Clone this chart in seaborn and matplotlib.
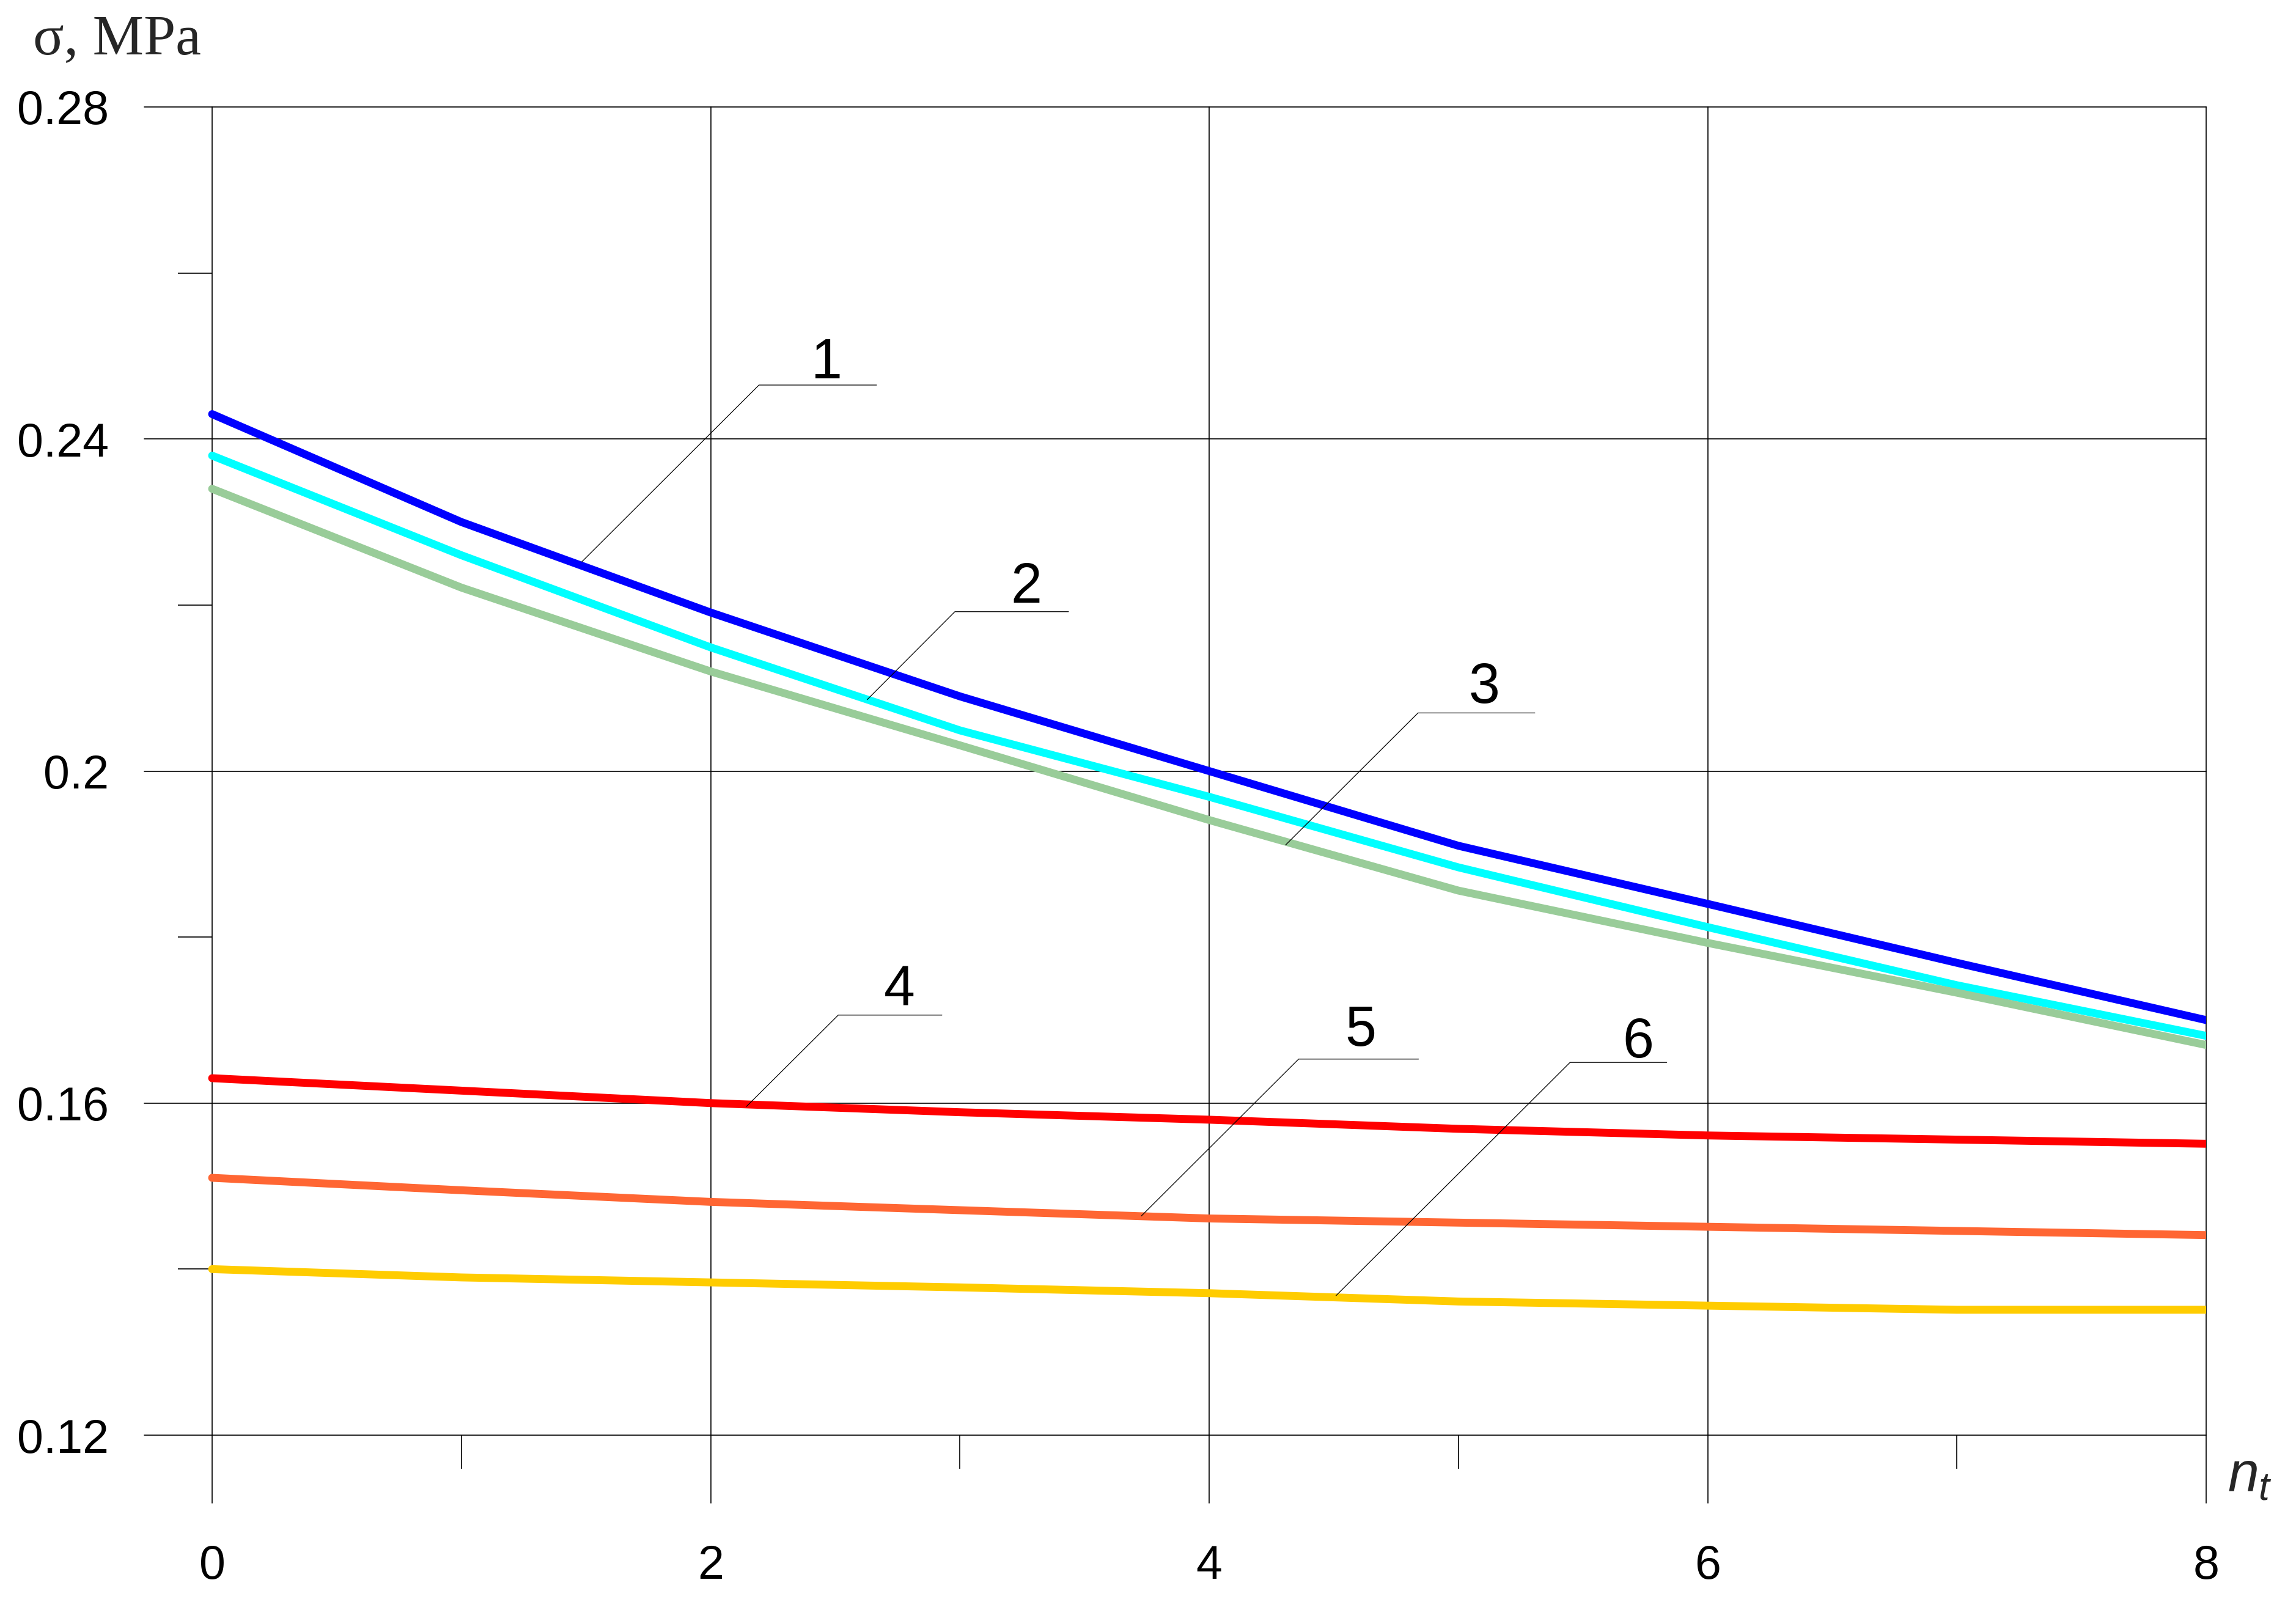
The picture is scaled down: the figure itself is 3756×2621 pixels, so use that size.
import numpy as np
import pandas as pd
import matplotlib
matplotlib.use("Agg")
import matplotlib.pyplot as plt
import seaborn as sns

# ---------------- data ----------------
n_t = [0, 1, 2, 3, 4, 5, 6, 7, 8]
curve_1 = [0.2430, 0.2300, 0.2191, 0.2090, 0.2000, 0.1910, 0.1840, 0.1769, 0.1700]
curve_2 = [0.2380, 0.2260, 0.2149, 0.2049, 0.1969, 0.1884, 0.1812, 0.1742, 0.1681]
curve_3 = [0.2340, 0.2221, 0.2120, 0.2031, 0.1941, 0.1856, 0.1793, 0.1733, 0.1670]
curve_4 = [0.1630, 0.1615, 0.1600, 0.1589, 0.1580, 0.1569, 0.1561, 0.1556, 0.1551]
curve_5 = [0.1510, 0.1495, 0.1481, 0.1471, 0.1461, 0.1456, 0.1451, 0.1446, 0.1441]
curve_6 = [0.1400, 0.1390, 0.1384, 0.1378, 0.1371, 0.1361, 0.1356, 0.1351, 0.1351]
curve_names = ["1", "2", "3", "4", "5", "6"]
curve_colors = ["#0000FF", "#00FFFF", "#99CC99", "#FF0000", "#FF6633", "#FFCC00"]

x_ticks = [0, 2, 4, 6, 8]
y_ticks = [0.12, 0.16, 0.2, 0.24, 0.28]
y_tick_labels = ["0.12", "0.16", "0.2", "0.24", "0.28"]
x_minor = [1, 3, 5, 7]
y_minor = [0.14, 0.18, 0.22, 0.26]

# leader layout: (label, start x, start y, corner x, corner y, end x, text x, text baseline y)
label_layout = [
    ("1", 1.483, 0.2252, 2.194, 0.2465, 2.666, 2.465, 0.2473),
    ("2", 2.628, 0.2086, 2.980, 0.2192, 3.436, 3.266, 0.2203),
    ("3", 4.307, 0.1911, 4.838, 0.2070, 5.307, 5.103, 0.2082),
    ("4", 2.144, 0.1596, 2.512, 0.1706, 2.928, 2.757, 0.1718),
    ("5", 3.728, 0.1464, 4.359, 0.1653, 4.840, 4.608, 0.1669),
    ("6", 4.509, 0.1368, 5.448, 0.1649, 5.836, 5.722, 0.1655),
]

series = [curve_1, curve_2, curve_3, curve_4, curve_5, curve_6]
df = pd.DataFrame({
    "n_t": np.tile(n_t, len(series)),
    "sigma": np.concatenate(series),
    "curve": np.repeat(curve_names, len(n_t)),
})
palette = dict(zip(curve_names, curve_colors))

# ---------------- style ----------------
sns.set_style("white")
plt.rcParams["font.family"] = ["Liberation Sans", "DejaVu Sans"]
plt.rcParams["mathtext.fontset"] = "custom"
plt.rcParams["mathtext.it"] = "Liberation Sans:italic"
plt.rcParams["mathtext.rm"] = "Liberation Sans"

W, H, DPI = 3756, 2621, 300
fig = plt.figure(figsize=(W / DPI, H / DPI), dpi=DPI)
ax = fig.add_axes([236 / W, 1 - 2459 / H, (3609 - 236) / W, (2459 - 175) / H])

sns.lineplot(data=df, x="n_t", y="sigma", hue="curve", palette=palette,
             hue_order=curve_names, linewidth=3.1, legend=False, ax=ax,
             errorbar=None, solid_capstyle="round", solid_joinstyle="round",
             zorder=3)

px_per_x = (3609 - 347) / 8.0
px_per_y = (2348 - 175) / 0.16
ax.set_xlim(-(347 - 236) / px_per_x, 8)
ax.set_ylim(0.12 - (2459 - 2348) / px_per_y, 0.28)
ax.set_xticks(x_ticks)
ax.set_xticklabels([str(v) for v in x_ticks])
ax.set_yticks(y_ticks)
ax.set_yticklabels(y_tick_labels)
ax.set_xlabel("")
ax.set_ylabel("")
for s in ax.spines.values():
    s.set_visible(False)

ax.grid(True, color="black", linewidth=0.4)
for gl in ax.get_xgridlines() + ax.get_ygridlines():
    gl.set_clip_on(False)

ax.tick_params(axis="x", length=0, labelsize=18.5, pad=16, colors="black")
ax.tick_params(axis="y", length=0, labelsize=18.5, pad=14, colors="black")

# minor tick marks
ax.vlines(x_minor, 0.12 - 55 / px_per_y, 0.12, color="black", linewidth=0.4,
          clip_on=False, zorder=2)
ax.hlines(y_minor, -56 / px_per_x, 0, color="black", linewidth=0.4,
          clip_on=False, zorder=2)

# curve labels with leader lines
for lab, xs, ys, xc, yc, xe, xt, yt in label_layout:
    ax.plot([xs, xc, xe], [ys, yc, yc], color="black", linewidth=0.3, zorder=4)
    ax.text(xt, yt, lab, ha="center", va="baseline", fontsize=22, color="black")

# axis titles
ax.annotate("$n_t$", xy=(8, 0.12), xytext=(8.4, -22), textcoords="offset points",
            fontsize=22, ha="left", va="baseline", annotation_clip=False)
fig.text(54 / W, 1 - 88 / H, "σ, MPa", family=["Liberation Serif", "DejaVu Serif"],
         fontsize=22.5, ha="left", va="baseline")

fig.savefig("out.png", dpi=DPI)
